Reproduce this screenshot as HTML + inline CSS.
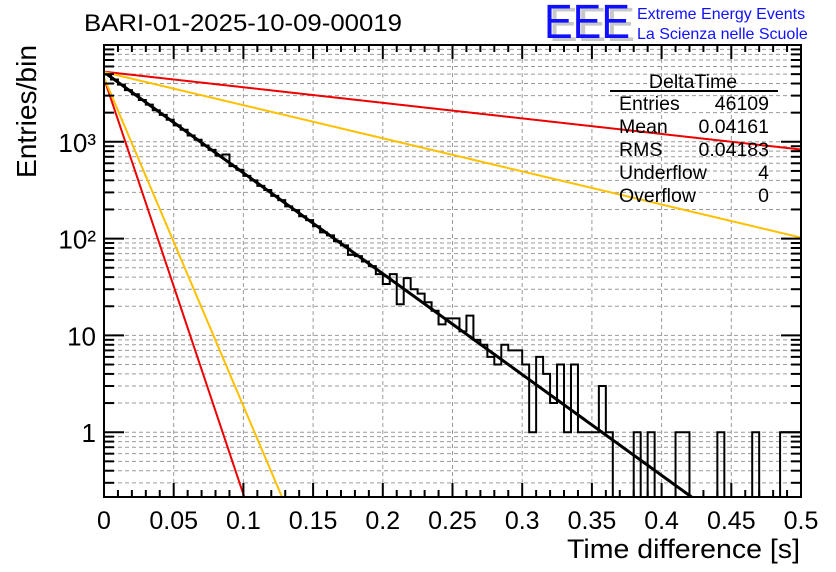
<!DOCTYPE html>
<html><head><meta charset="utf-8"><style>
html,body{margin:0;padding:0;background:#fff;}
svg{display:block;font-family:"Liberation Sans",sans-serif;}
</style></head><body>
<svg id="chart" width="836" height="572" viewBox="0 0 836 572" xmlns="http://www.w3.org/2000/svg">
<g id="grid"></g>
<g id="fits"></g>
<g id="hist"></g>
<g id="axes"></g>
<text x="84" y="31" font-size="24" textLength="318" lengthAdjust="spacingAndGlyphs">BARI-01-2025-10-09-00019</text>
<text transform="translate(36,178) rotate(-90)" font-size="28" textLength="133" lengthAdjust="spacingAndGlyphs">Entries/bin</text>
<text x="800" y="558" font-size="27" text-anchor="end" textLength="233" lengthAdjust="spacingAndGlyphs">Time difference [s]</text>
<g>
<text x="549" y="41" font-size="48" fill="#c8c8c8" textLength="86" lengthAdjust="spacingAndGlyphs">EEE</text>
<text x="544" y="38" font-size="48" fill="#1010ff" textLength="86" lengthAdjust="spacingAndGlyphs">EEE</text>
<text x="637" y="19" font-size="16" fill="#1010ff">Extreme Energy Events</text>
<text x="637" y="39" font-size="16" fill="#1010ff">La Scienza nelle Scuole</text>
</g>
<g font-size="19.5">
<text x="693" y="88" text-anchor="middle">DeltaTime</text>
<line x1="610" y1="91" x2="778" y2="91" stroke="#000" stroke-width="2"/>
<text x="619" y="110">Entries</text><text x="769" y="110" text-anchor="end">46109</text>
<text x="619" y="133">Mean</text><text x="769" y="133" text-anchor="end">0.04161</text>
<text x="619" y="156">RMS</text><text x="769" y="156" text-anchor="end">0.04183</text>
<text x="619" y="179">Underflow</text><text x="769" y="179" text-anchor="end">4</text>
<text x="619" y="202">Overflow</text><text x="769" y="202" text-anchor="end">0</text>
</g>
</svg>
<script>
const binCounts = [4950,4400,3900,3420,3100,2700,2420,2120,1900,1690,1480,1330,1160,1050,915,825,720,740,560,515,445,400,350,318,276,250,215,197,170,155,134,116,108,94,85,68,66,58,52,43,34,43,21,39,30,27,22,18,13,15,15,11,16,9,8,6,5,8,7,7,5,1,6,4,2,5,1,5,1,1,1,3,1,0,0,0,1,0,1,0,0,0,1,1,0,0,0,0,1,0,0,0,0,1,0,0,0,1,1,1];
const fitNames = ['fit-main','fit-fast-red','fit-fast-yellow','fit-slow-red','fit-slow-yellow'];
const fitAmps = [5250,4550,4600,5300,5250];
const fitTaus = [0.0417,0.0101,0.0128,0.27,0.127];
const fitColors = ['#000','#ee0000','#ffc000','#ee0000','#ffc000'];
const xTicks = [0,0.05,0.1,0.15,0.2,0.25,0.3,0.35,0.4,0.45,0.5];
const xTickLabels = ['0','0.05','0.1','0.15','0.2','0.25','0.3','0.35','0.4','0.45','0.5'];
const yDecades = [0,1,2,3];
const yDecadeLabels = ['1','10','10²','10³'];

const X0=104,X1=801,YT=45,YB=497,XMIN=0,XMAX=0.5,DEC=96.8,YTOPLOG=4;
const YMIN=Math.pow(10,YTOPLOG-(YB-YT)/DEC);
function sx(v){return X0+(v-XMIN)/(XMAX-XMIN)*(X1-X0);}
function sy(v){if(v<=YMIN)return YB;return YT+(YTOPLOG-Math.log10(v))*DEC;}
const NS='http://www.w3.org/2000/svg';
function mk(tag,attrs,parent){const e=document.createElementNS(NS,tag);for(const k in attrs)e.setAttribute(k,attrs[k]);parent.appendChild(e);return e;}
const grid=document.getElementById('grid'),axes=document.getElementById('axes'),hist=document.getElementById('hist'),fits=document.getElementById('fits');

xTicks.forEach(t=>{if(t>XMIN&&t<XMAX){const l=mk('line',{x1:sx(t),x2:sx(t),y1:YT,y2:YB,stroke:'#9a9a9a','stroke-dasharray':'4,3','stroke-width':1},grid);

}});
for(let d=-1;d<4;d++){for(let m=1;m<10;m++){const v=m*Math.pow(10,d);if(v<YMIN||v>Math.pow(10,YTOPLOG))continue;const y=sy(v);
const g=mk('line',{x1:X0,x2:X1,y1:y,y2:y,stroke:'#9a9a9a','stroke-dasharray':'4,3','stroke-width':1},grid);


const len=m===1?20:10;
const t1=mk('line',{x1:X0,x2:X0+len,y1:y,y2:y,stroke:'#000','stroke-width':2},axes);


const t2=mk('line',{x1:X1,x2:X1-len,y1:y,y2:y,stroke:'#000','stroke-width':2},axes);

}}
for(let i=0;i<=50;i++){const v=i*0.01;const x=sx(v);const len=i%5===0?14:7;
const a=mk('line',{x1:x,x2:x,y1:YB,y2:YB-len,stroke:'#000','stroke-width':2},axes);


const b=mk('line',{x1:x,x2:x,y1:YT,y2:YT+len,stroke:'#000','stroke-width':2},axes);

}
xTicks.forEach((t,i)=>{const tx=mk('text',{x:sx(t),y:529,'font-size':25,'text-anchor':'middle'},axes);tx.textContent=xTickLabels[i];

});
yDecades.forEach((d,i)=>{const tx=mk('text',{x:96,y:sy(Math.pow(10,d))+10,'font-size':26,'text-anchor':'end'},axes);tx.textContent=yDecadeLabels[i];

});
const frame=mk('rect',{x:X0,y:YT,width:X1-X0,height:YB-YT,fill:'none',stroke:'#000','stroke-width':2},axes);



fitAmps.forEach((A,i)=>{let pts=[];for(let k=0;k<=400;k++){const x=XMIN+(XMAX-XMIN)*k/400;const v=A*Math.exp(-x/fitTaus[i]);if(v<YMIN){pts.push(sx(fitTaus[i]*Math.log(A/YMIN))+','+YB);break;}pts.push(sx(x)+','+sy(v));}
const p=mk('polyline',{points:pts.join(' '),fill:'none',stroke:fitColors[i],'stroke-width':i===0?3:2},fits);

});

const bw=(XMAX-XMIN)/binCounts.length;let d='';
binCounts.forEach((c,i)=>{const xl=sx(XMIN+i*bw),xr=sx(XMIN+(i+1)*bw);const y=c>0?sy(c):YB;
if(i===0)d+='M'+xl+','+y;else d+='L'+xl+','+y;d+='L'+xr+','+y;});
d+='L'+X1+','+YB;
const h=mk('path',{d:d,fill:'none',stroke:'#000','stroke-width':2},hist);


</script>
</body></html>
